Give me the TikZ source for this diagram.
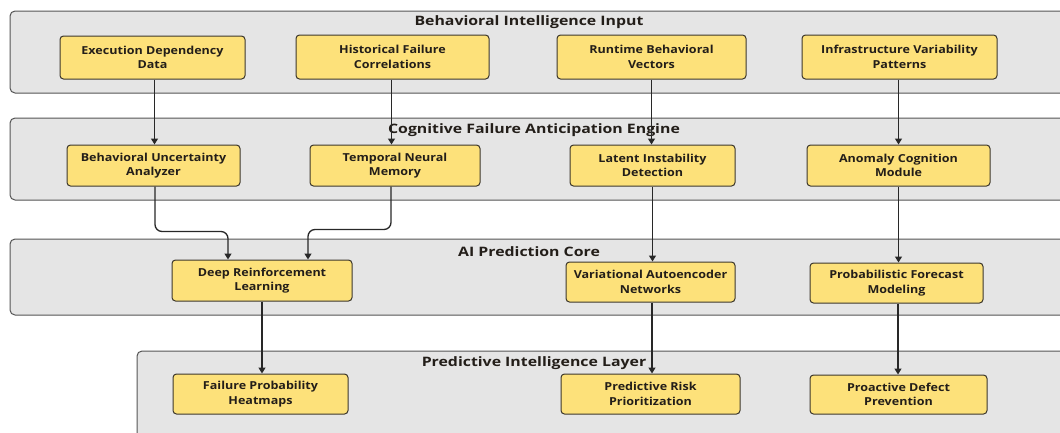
\documentclass[tikz,border=0pt]{standalone}
\usepackage{fontspec}
\setmainfont{Open Sans}
\newfontfamily\nodefont{Open Sans}[FakeStretch=1.14]
\newfontfamily\titlefont{Open Sans}[FakeStretch=1.22]
\usetikzlibrary{arrows.meta}
\definecolor{clfill}{RGB}{229,229,229}
\definecolor{cldraw}{RGB}{85,85,85}
\definecolor{ndfill}{RGB}{253,225,122}
\definecolor{nddraw}{RGB}{60,55,45}
\definecolor{txt}{RGB}{35,30,25}
\definecolor{arrc}{RGB}{40,40,40}
\tikzset{
  cluster/.style={draw=cldraw, fill=clfill, line width=1pt, rounded corners=5pt},
  cltitle/.style={font=\titlefont\bfseries\fontsize{13}{14}\selectfont, text=txt, inner sep=0pt},
  box/.style={draw=nddraw, fill=ndfill, line width=1pt, rounded corners=3.5pt, align=center,
    font=\nodefont\bfseries\fontsize{11}{14.5}\selectfont, text=txt, inner sep=0pt},
  arr/.style={draw=arrc, line width=1.3pt, -{Triangle[length=6pt,width=7pt]}},
}
\begin{document}
\begin{tikzpicture}[x=1pt,y=-1pt]
\useasboundingbox (0,0) rectangle (1060,432);
\clip (0,0) rectangle (1060,432);
\fill[white] (0,0) rectangle (1060,432);
% clusters
\draw[cluster] (10,11) rectangle (1075,93);
\draw[cluster] (10,118) rectangle (1075,200);
\draw[cluster] (10,239) rectangle (1075,315);
\draw[cluster] (137,351) rectangle (1075,445);
\node[cltitle] (t1) at (529,22) {Behavioral Intelligence Input};
\node[cltitle] (t2) at (534,130) {Cognitive Failure Anticipation Engine};
\node[cltitle] (t3) at (529,252) {AI Prediction Core};
\node[cltitle] (t4) at (534,363) {Predictive Intelligence Layer};
% row 1
\node[box, minimum width=185, minimum height=43] (E) at (152.5,57.5) {Execution Dependency\\Data};
\node[box, minimum width=193, minimum height=44] (H) at (392.5,57) {Historical Failure\\Correlations};
\node[box, minimum width=189, minimum height=44] (R) at (651.5,57) {Runtime Behavioral\\Vectors};
\node[box, minimum width=195, minimum height=44] (I) at (899.5,57) {Infrastructure Variability\\Patterns};
% row 2
\node[box, minimum width=173, minimum height=41] (B) at (153.5,165.5) {Behavioral Uncertainty\\Analyzer};
\node[box, minimum width=170, minimum height=41] (T) at (395,165.5) {Temporal Neural\\Memory};
\node[box, minimum width=165, minimum height=41] (L) at (652.5,165.5) {Latent Instability\\Detection};
\node[box, minimum width=183, minimum height=41] (A) at (898.5,165.5) {Anomaly Cognition\\Module};
% row 3
\node[box, minimum width=180, minimum height=41] (D) at (262,280.5) {Deep Reinforcement\\Learning};
\node[box, minimum width=169, minimum height=40] (V) at (650.5,282) {Variational Autoencoder\\Networks};
\node[box, minimum width=173, minimum height=40] (P) at (896.5,283) {Probabilistic Forecast\\Modeling};
% row 4
\node[box, minimum width=175, minimum height=40] (F) at (260.5,394) {Failure Probability\\Heatmaps};
\node[box, minimum width=179, minimum height=40] (K) at (650.5,394) {Predictive Risk\\Prioritization};
\node[box, minimum width=177, minimum height=39] (Q) at (898.5,394.5) {Proactive Defect\\Prevention};
% arrows
\draw[arr] ([xshift=2pt]E.south) -- ([xshift=2pt]E.south |- B.north);
\draw[arr] ([xshift=-1pt]H.south) -- ([xshift=-1pt]H.south |- T.north);
\draw[arr] (R.south) -- (R.south |- L.north);
\draw[arr] ([xshift=-1pt]I.south) -- ([xshift=-1pt]I.south |- A.north);
\draw[arr, rounded corners=7pt] ([xshift=1.5pt]B.south) |- ([xshift=-34pt,yshift=28pt]D.north) -- ([xshift=-34pt]D.north);
\draw[arr, rounded corners=7pt] ([xshift=-4pt]T.south) |- ([xshift=46pt,yshift=30pt]D.north) -- ([xshift=46pt]D.north);
\draw[arr] (L.south) -- (L.south |- V.north);
\draw[arr] (A.south) -- (A.south |- P.north);
\draw[arr] (D.south) -- (D.south |- F.north);
\draw[arr] ([xshift=1.5pt]V.south) -- ([xshift=1.5pt]V.south |- K.north);
\draw[arr] ([xshift=1.5pt]P.south) -- ([xshift=1.5pt]P.south |- Q.north);
\end{tikzpicture}
\end{document}
